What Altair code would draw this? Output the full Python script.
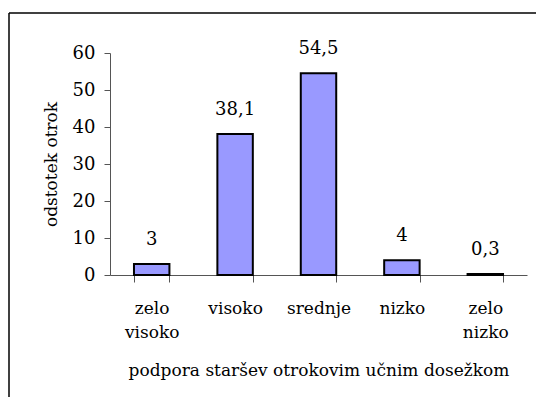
import altair as alt
import pandas as pd

categories = ["zelo visoko", "visoko", "srednje", "nizko", "zelo nizko"]
values = [3, 38.1, 54.5, 4, 0.3]
y_ticks = [0, 10, 20, 30, 40, 50, 60]

df = pd.DataFrame({"cat": categories, "val": values})

FONT = "DejaVu Serif"
FS = 17
FS_NUM = 18
W, H = 417, 222

x_axis = alt.Axis(
    title="podpora staršev otrokovim učnim dosežkom",
    titleBaseline="alphabetic", titleY=100, titleX=W / 2, titleAlign="center",
    labelAngle=0,
    labelExpr="split(datum.label, ' ')", labelLineHeight=24,
    labelBaseline="alphabetic", labelPadding=31, labelOverlap=False,
    tickBand="extent", tickSize=7,
)
y_axis = alt.Axis(
    values=y_ticks,
    title="odstotek otrok",
    titleBaseline="alphabetic", titleX=-54, titleY=H / 2, titleAlign="center",
    labelOverlap=False, labelPadding=9, tickSize=6, labelFontSize=FS_NUM,
)
x_enc = alt.X("cat:N", sort=categories,
              scale=alt.Scale(paddingInner=0.575, paddingOuter=0.2875), axis=x_axis)
y_enc = alt.Y("val:Q", scale=alt.Scale(domain=[0, 60], nice=False), axis=y_axis)

base = alt.Chart(df).encode(x=x_enc, y=y_enc)

bars = base.mark_bar(color="#9999FF", stroke="black", strokeWidth=2)

labels = base.transform_calculate(
    lab="replace(toString(datum.val), '.', ',')"
).mark_text(
    font=FONT, fontSize=FS_NUM, color="black", baseline="alphabetic", dy=-19
).encode(text="lab:N")

border_df = pd.DataFrame({"a": [0]})
border_left = alt.Chart(border_df).mark_rule(color="black", strokeWidth=1.5).encode(
    x=alt.value(-101), y=alt.value(-40), y2=alt.value(400)
)
border_top = alt.Chart(border_df).mark_rule(color="black", strokeWidth=1.5).encode(
    x=alt.value(-101), x2=alt.value(450), y=alt.value(-40)
)

chart = alt.layer(bars, labels, border_left, border_top).properties(
    width=W, height=H,
    autosize=alt.AutoSizeParams(type="none"),
    padding={"left": 102, "top": 45, "right": 9, "bottom": 122},
    background="white",
).configure(font=FONT).configure_view(stroke=None).configure_axis(
    labelFont=FONT, labelFontSize=FS, labelColor="black",
    titleFont=FONT, titleFontSize=FS, titleFontWeight="normal", titleColor="black",
    tickColor="#555", domainColor="#555", grid=False,
)

chart.save("out.html", embed_options={"renderer": "svg", "actions": False})
